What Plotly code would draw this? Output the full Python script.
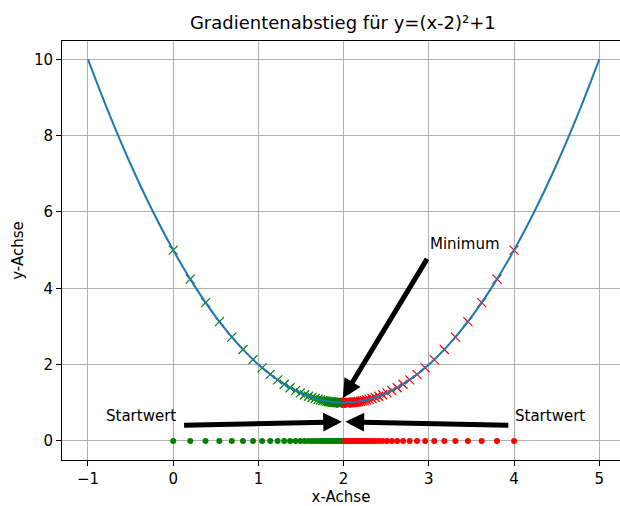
import plotly.graph_objects as go

# Parabel y = (x-2)^2 + 1
curve_x = [-1.0, -0.75, -0.5, -0.25, 0.0, 0.25, 0.5, 0.75, 1.0, 1.25, 1.5, 1.75, 2.0,
           2.25, 2.5, 2.75, 3.0, 3.25, 3.5, 3.75, 4.0, 4.25, 4.5, 4.75, 5.0]
curve_y = [10.0, 8.5625, 7.25, 6.0625, 5.0, 4.0625, 3.25, 2.5625, 2.0, 1.5625, 1.25, 1.0625, 1.0,
           1.0625, 1.25, 1.5625, 2.0, 2.5625, 3.25, 4.0625, 5.0, 6.0625, 7.25, 8.5625, 10.0]

# Iterationen von links (Start bei x=0)
left_x = [0.0, 0.2, 0.38, 0.542, 0.688, 0.819, 0.937, 1.043, 1.139, 1.225, 1.303, 1.372,
          1.435, 1.492, 1.542, 1.588, 1.629, 1.666, 1.700, 1.730, 1.757, 1.781, 1.803,
          1.823, 1.840, 1.856, 1.871, 1.884, 1.895, 1.906, 1.915, 1.924, 1.931, 1.938,
          1.944, 1.950, 1.955, 1.959, 1.964, 1.967, 1.970, 1.973, 1.976, 1.979, 1.981]
# Iterationen von rechts (Start bei x=4)
right_x = [4.0, 3.8, 3.62, 3.458, 3.312, 3.181, 3.063, 2.957, 2.861, 2.775, 2.697, 2.628,
           2.565, 2.508, 2.458, 2.412, 2.371, 2.334, 2.300, 2.270, 2.243, 2.219, 2.197,
           2.177, 2.160, 2.144, 2.129, 2.116, 2.105, 2.094, 2.085, 2.076, 2.069, 2.062,
           2.056, 2.050, 2.045, 2.041, 2.036, 2.033, 2.030, 2.027, 2.024, 2.021, 2.019]
# Funktionswerte der Iterationen (für beide Seiten gleich)
step_y = [5.0, 4.24, 3.624, 3.126, 2.722, 2.395, 2.130, 1.915, 1.742, 1.601, 1.486, 1.394,
          1.319, 1.258, 1.210, 1.170, 1.138, 1.112, 1.090, 1.073, 1.059, 1.048, 1.039,
          1.031, 1.026, 1.021, 1.017, 1.013, 1.011, 1.009, 1.007, 1.006, 1.005, 1.004,
          1.003, 1.002, 1.002, 1.002, 1.001, 1.001, 1.001, 1.001, 1.001, 1.000, 1.000]
zero_y = [0.0] * len(left_x)

x_ticks = [-1, 0, 1, 2, 3, 4, 5]
x_tick_text = ["\u22121", "0", "1", "2", "3", "4", "5"]
y_ticks = [0, 2, 4, 6, 8, 10]

FONT = "DejaVu Sans"
FS = 15

fig = go.Figure()

# Startpunkte auf der x-Achse
fig.add_trace(go.Scatter(x=left_x, y=zero_y, mode="markers",
                         marker=dict(symbol="circle", size=6, color="green"),
                         showlegend=False, hoverinfo="skip"))
fig.add_trace(go.Scatter(x=right_x, y=zero_y, mode="markers",
                         marker=dict(symbol="circle", size=6, color="red"),
                         showlegend=False, hoverinfo="skip"))

# Schritte auf der Kurve
fig.add_trace(go.Scatter(x=left_x, y=step_y, mode="markers",
                         marker=dict(symbol="x-thin", size=9, color="green",
                                     line=dict(color="green", width=1.2)),
                         showlegend=False, hoverinfo="skip"))
fig.add_trace(go.Scatter(x=right_x, y=step_y, mode="markers",
                         marker=dict(symbol="x-thin", size=9, color="red",
                                     line=dict(color="red", width=1.2)),
                         showlegend=False, hoverinfo="skip"))

# Funktionsgraph
fig.add_trace(go.Scatter(x=curve_x, y=curve_y, mode="lines",
                         line=dict(color="#1f77b4", width=2, shape="spline"),
                         showlegend=False, hoverinfo="skip"))

text_font = dict(family=FONT, size=FS, color="black")

arrows = [
    # (Spitze x, Spitze y, Ende x, Ende y)
    (1.99, 1.12, 2.99, 4.81),
    (1.98, 0.5, 0.11, 0.41),
    (2.02, 0.5, 3.95, 0.41),
]
for hx, hy, tx, ty in arrows:
    fig.add_annotation(x=hx, y=hy, ax=tx, ay=ty, xref="x", yref="y",
                       axref="x", ayref="y", text="", showarrow=True,
                       arrowhead=2, arrowsize=0.75, arrowwidth=5,
                       arrowcolor="black")

labels = [
    ("Minimum", 3.0, 5.0),
    ("Startwert", -0.8, 0.5),
    ("Startwert", 4.0, 0.5),
]
for txt, lx, ly in labels:
    fig.add_annotation(x=lx, y=ly, xref="x", yref="y", text=txt, showarrow=False,
                       xanchor="left", yanchor="bottom", font=text_font,
                       borderpad=0, yshift=-4)

fig.update_layout(
    width=620, height=506,
    margin=dict(l=62, r=0, t=41, b=46),
    paper_bgcolor="white", plot_bgcolor="white",
    font=dict(family=FONT, size=FS, color="black"),
    title=dict(text="Gradientenabstieg für y=(x-2)²+1", x=0.553, xanchor="center",
               y=0.955, yanchor="middle", font=dict(family=FONT, size=18, color="black")),
    xaxis=dict(range=[-1.305, 5.243], tickvals=x_ticks, ticktext=x_tick_text,
               showgrid=True, gridcolor="#b0b0b0", gridwidth=0.8,
               showline=True, linecolor="black", linewidth=1, mirror=True,
               ticks="outside", ticklen=5, tickcolor="black", zeroline=False,
               tickfont=dict(family=FONT, size=FS, color="black"),
               title=dict(text="x-Achse", font=dict(family=FONT, size=FS), standoff=4)),
    yaxis=dict(range=[-0.5, 10.48], tickvals=y_ticks,
               showgrid=True, gridcolor="#b0b0b0", gridwidth=0.8,
               showline=True, linecolor="black", linewidth=1, mirror=False,
               ticks="outside", ticklen=5, tickcolor="black", zeroline=False,
               tickfont=dict(family=FONT, size=FS, color="black"),
               title=dict(text="y-Achse", font=dict(family=FONT, size=FS), standoff=6)),
)

fig.write_html("out.html")
